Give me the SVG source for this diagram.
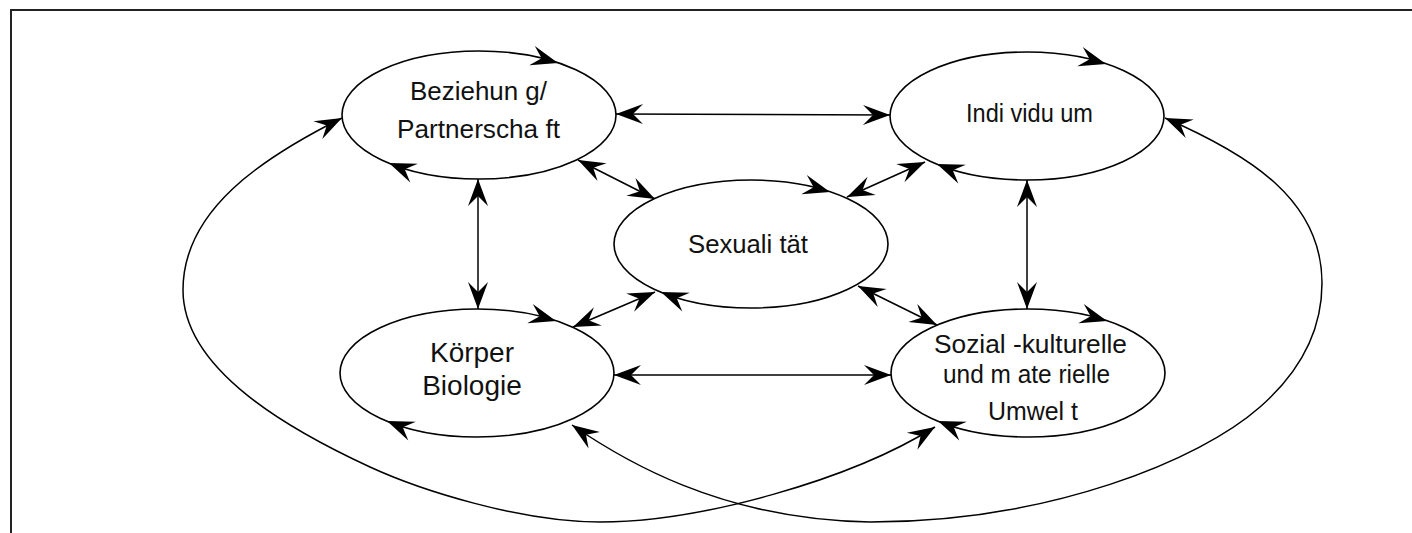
<svg xmlns="http://www.w3.org/2000/svg" xmlns:xlink="http://www.w3.org/1999/xlink" width="1412" height="533" viewBox="0 0 1412 533">
<style>
.el{fill:#fff;stroke:#000;stroke-width:1.6}
.cn{fill:none;stroke:#000;stroke-width:1.5;marker-start:url(#ah);marker-end:url(#ah)}
.nt{font-family:"Liberation Sans Narrow","Liberation Sans",Arial,sans-serif;font-size:26px;fill:#111}
.rt{font-family:"Liberation Sans",Arial,sans-serif;font-size:28px;fill:#111;text-anchor:middle}
</style>
<defs>
<path id="head" d="M0,0 L-27,-10 L-17,0 L-27,10 Z" fill="#000"/>
<marker id="ah" markerUnits="userSpaceOnUse" markerWidth="60" markerHeight="60" refX="0" refY="0" orient="auto-start-reverse" overflow="visible">
<path d="M0,0 L-27,-10 L-17,0 L-27,10 Z" fill="#000"/>
</marker>
</defs>
<rect x="11" y="10" width="1420" height="540" fill="#fff" stroke="#222" stroke-width="2"/>

<g id="connectors">
<line class="cn" x1="616" y1="114" x2="890" y2="115"/>
<line class="cn" x1="614" y1="375" x2="891" y2="375"/>
<line class="cn" x1="478" y1="179" x2="478" y2="309"/>
<line class="cn" x1="1027" y1="180" x2="1027" y2="309"/>
<line class="cn" x1="578" y1="160" x2="655" y2="199"/>
<line class="cn" x1="925" y1="162" x2="847" y2="197"/>
<line class="cn" x1="655" y1="292" x2="573" y2="327"/>
<line class="cn" x1="858" y1="286" x2="937" y2="325"/>
<path class="cn" d="M342,118 C262,158 183,210 183,290 C183,370 290,430 370,467 C420,490 520,522 600,522 C700,522 850,480 935,427"/>
<path class="cn" d="M572,425 C620,458 720,520 870,522 C1050,522 1200,460 1260,407 C1300,372 1322,330 1322,283 C1322,200 1250,155 1165,118"/>
</g>

<g id="beziehung">
<ellipse class="el" cx="479" cy="115" rx="137" ry="64"/>
<use xlink:href="#head" transform="translate(558,63) rotate(16)"/>
<use xlink:href="#head" transform="translate(389,163) rotate(202)"/>
<text class="nt" x="410" y="100" textLength="137" lengthAdjust="spacingAndGlyphs">Beziehun g/</text>
<text class="nt" x="397" y="138" textLength="163" lengthAdjust="spacingAndGlyphs">Partnerscha ft</text>
</g>

<g id="individuum">
<ellipse class="el" cx="1027" cy="116" rx="137" ry="64"/>
<use xlink:href="#head" transform="translate(1106,64) rotate(16)"/>
<use xlink:href="#head" transform="translate(937,164) rotate(202)"/>
<text class="nt" x="966" y="122" textLength="127" lengthAdjust="spacingAndGlyphs">Indi vidu um</text>
</g>

<g id="sexualitaet">
<ellipse class="el" cx="751" cy="244" rx="137" ry="64"/>
<use xlink:href="#head" transform="translate(830,192) rotate(16)"/>
<use xlink:href="#head" transform="translate(661,292) rotate(202)"/>
<text class="nt" x="688" y="253" textLength="120" lengthAdjust="spacingAndGlyphs">Sexuali tät</text>
</g>

<g id="koerper">
<ellipse class="el" cx="477" cy="373" rx="137" ry="64"/>
<use xlink:href="#head" transform="translate(556,321) rotate(16)"/>
<use xlink:href="#head" transform="translate(387,421) rotate(202)"/>
<text class="rt" x="472" y="362">Körper</text>
<text class="rt" x="472" y="395">Biologie</text>
</g>

<g id="sozial">
<ellipse class="el" cx="1028" cy="373" rx="137" ry="64"/>
<use xlink:href="#head" transform="translate(1107,321) rotate(16)"/>
<use xlink:href="#head" transform="translate(938,421) rotate(202)"/>
<text class="nt" x="934" y="353" textLength="193" lengthAdjust="spacingAndGlyphs">Sozial -kulturelle</text>
<text class="nt" x="943" y="383" textLength="167" lengthAdjust="spacingAndGlyphs">und m ate rielle</text>
<text class="nt" x="988" y="420" textLength="90" lengthAdjust="spacingAndGlyphs">Umwel t</text>
</g>
</svg>
